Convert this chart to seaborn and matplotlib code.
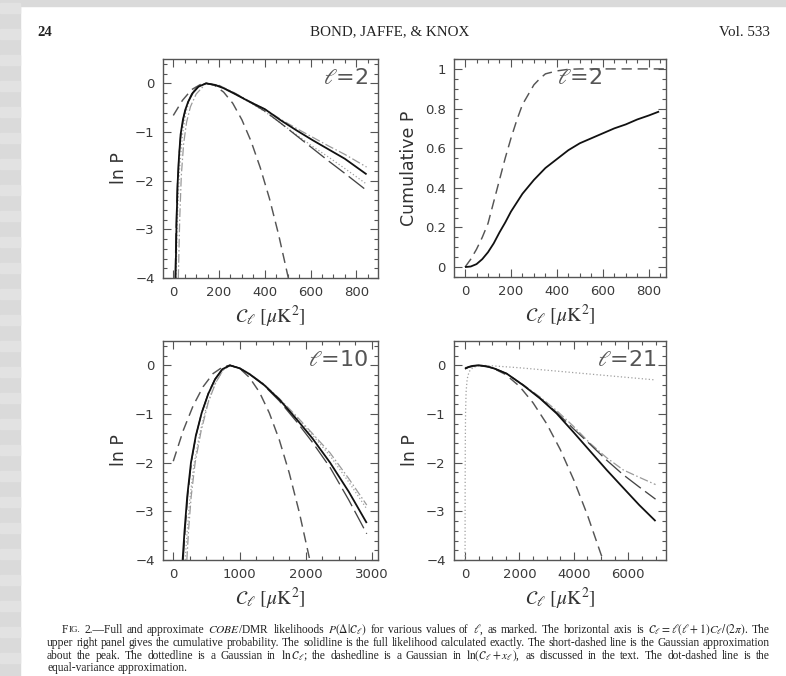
import numpy as np
import pandas as pd
import matplotlib
matplotlib.use("Agg")
import matplotlib.pyplot as plt
import seaborn as sns
from matplotlib.ticker import MultipleLocator
from matplotlib.patches import Rectangle

# ---------------- data ----------------
# Panel 1: l = 2, ln P
P1_SOLID_X = [10, 14, 19, 25, 32, 42, 52, 65, 85, 110, 143, 180, 220, 270, 330, 400, 470, 540, 610, 680, 750, 845]
P1_SOLID_Y = [-4.0, -2.9, -2.05, -1.5, -1.05, -0.75, -0.55, -0.38, -0.2, -0.07, 0.0, -0.03, -0.1, -0.22, -0.37,
              -0.53, -0.76, -0.97, -1.17, -1.36, -1.55, -1.87]
P1_SHORT_X = [0, 40, 80, 120, 145, 180, 220, 260, 300, 340, 380, 420, 460, 503]
P1_SHORT_Y = [-0.66, -0.35, -0.13, -0.02, 0.0, -0.04, -0.18, -0.41, -0.75, -1.19, -1.73, -2.36, -3.1, -4.0]
P1_DOT_X = [12, 16, 20, 28, 40, 55, 75, 100, 143, 200, 270, 330, 400, 470, 540, 610, 680, 750, 845]
P1_DOT_Y = [-4.0, -3.15, -2.54, -1.74, -1.06, -0.6, -0.27, -0.08, 0.0, -0.05, -0.22, -0.38, -0.58, -0.82,
            -1.06, -1.3, -1.52, -1.75, -2.07]
P1_LDASH_X = [8, 12, 17, 24, 32, 45, 60, 80, 105, 143, 200, 270, 330, 400, 470, 540, 610, 680, 750, 845]
P1_LDASH_Y = [-4.0, -3.0, -2.2, -1.55, -1.1, -0.7, -0.43, -0.22, -0.08, 0.0, -0.05, -0.21, -0.37, -0.57,
              -0.82, -1.08, -1.34, -1.6, -1.85, -2.2]
P1_DDASH_X = [22, 28, 35, 45, 58, 75, 100, 143, 200, 270, 330, 400, 470, 540, 610, 680, 750, 845]
P1_DDASH_Y = [-4.0, -2.8, -1.9, -1.25, -0.8, -0.48, -0.22, 0.0, -0.04, -0.2, -0.36, -0.53, -0.74, -0.93,
              -1.11, -1.29, -1.46, -1.72]

# Panel 2: l = 2, cumulative P
P2_SOLID_X = [0, 25, 50, 75, 100, 125, 150, 175, 200, 250, 300, 350, 400, 450, 500, 550, 600, 650, 700, 750, 800, 845]
P2_SOLID_Y = [0.0, 0.003, 0.015, 0.04, 0.075, 0.12, 0.175, 0.225, 0.28, 0.37, 0.44, 0.5, 0.545, 0.59, 0.625,
              0.65, 0.675, 0.7, 0.72, 0.745, 0.765, 0.785]
P2_SHORT_X = [0, 25, 50, 75, 100, 125, 150, 175, 200, 225, 250, 275, 300, 325, 350, 400, 450, 500, 900]
P2_SHORT_Y = [0.0, 0.04, 0.09, 0.15, 0.22, 0.33, 0.44, 0.55, 0.65, 0.74, 0.82, 0.87, 0.92, 0.95, 0.975,
              0.99, 0.998, 1.0, 1.0]

# Panel 3: l = 10, ln P
P3_SOLID_X = [141, 170, 210, 267, 340, 428, 530, 630, 740, 856, 1000, 1150, 1360, 1600, 1863, 2100, 2367, 2650, 2920]
P3_SOLID_Y = [-4.0, -3.4, -2.7, -2.0, -1.45, -0.98, -0.58, -0.29, -0.08, 0.0, -0.06, -0.18, -0.39, -0.7,
              -1.11, -1.5, -2.0, -2.6, -3.24]
P3_SHORT_X = [0, 150, 300, 450, 600, 750, 850, 1000, 1150, 1300, 1450, 1600, 1750, 1900, 2061]
P3_SHORT_Y = [-1.97, -1.34, -0.83, -0.44, -0.17, -0.03, 0.0, -0.06, -0.25, -0.55, -0.98, -1.53, -2.21, -3.01, -4.0]
P3_DOT_X = [180, 210, 250, 310, 400, 510, 630, 750, 856, 1000, 1150, 1360, 1600, 1863, 2100, 2367, 2650, 2920]
P3_DOT_Y = [-4.0, -3.4, -2.75, -2.05, -1.4, -0.8, -0.38, -0.1, 0.0, -0.05, -0.17, -0.38, -0.69, -1.07,
            -1.43, -1.86, -2.4, -2.95]
P3_LDASH_X = [150, 180, 220, 275, 345, 430, 530, 630, 740, 856, 1000, 1150, 1360, 1600, 1863, 2100, 2367, 2650, 2920]
P3_LDASH_Y = [-4.0, -3.35, -2.65, -1.97, -1.43, -0.97, -0.57, -0.28, -0.08, 0.0, -0.06, -0.18, -0.4, -0.73,
              -1.16, -1.58, -2.1, -2.77, -3.46]
P3_DDASH_X = [205, 230, 270, 330, 420, 530, 640, 750, 856, 1000, 1150, 1360, 1600, 1863, 2100, 2367, 2650, 2920]
P3_DDASH_Y = [-4.0, -3.4, -2.7, -2.0, -1.35, -0.75, -0.36, -0.1, 0.0, -0.05, -0.17, -0.38, -0.68, -1.05,
              -1.4, -1.8, -2.33, -2.87]

# Panel 4: l = 21, ln P
P4_SOLID_X = [0, 150, 300, 500, 800, 1100, 1530, 2143, 2755, 3368, 3980, 4592, 5205, 5817, 6400, 7000]
P4_SOLID_Y = [-0.07, -0.03, -0.01, 0.0, -0.02, -0.07, -0.17, -0.41, -0.68, -0.99, -1.37, -1.76, -2.15, -2.52,
              -2.87, -3.2]
P4_SHORT_X = [0, 500, 1000, 1500, 2000, 2500, 3000, 3500, 4000, 4500, 5000, 5080]
P4_SHORT_Y = [-0.05, 0.0, -0.05, -0.19, -0.43, -0.77, -1.2, -1.73, -2.36, -3.08, -3.89, -4.0]
P4_DOT_X = [2, 5, 10, 20, 40, 80, 150, 300, 600, 1000, 2000, 3000, 4000, 5000, 6000, 7000]
P4_DOT_Y = [-4.0, -2.6, -1.7, -1.0, -0.55, -0.28, -0.13, -0.04, 0.0, -0.01, -0.05, -0.1, -0.15, -0.2, -0.25, -0.3]
P4_LDASH_X = [0, 150, 300, 500, 800, 1100, 1530, 2143, 2755, 3368, 3980, 4592, 5205, 5817, 6400, 7000]
P4_LDASH_Y = [-0.07, -0.03, -0.01, 0.0, -0.02, -0.07, -0.17, -0.41, -0.67, -0.97, -1.3, -1.62, -1.95, -2.25,
              -2.5, -2.75]
P4_DDASH_X = [0, 150, 300, 500, 800, 1100, 1530, 2143, 2755, 3368, 3980, 4592, 5205, 5817, 6400, 7000]
P4_DDASH_Y = [-0.07, -0.03, -0.01, 0.0, -0.02, -0.07, -0.17, -0.4, -0.65, -0.93, -1.25, -1.6, -1.9, -2.15,
              -2.3, -2.45]

PANEL_LABELS = ["$\\ell$=2", "$\\ell$=2", "$\\ell$=10", "$\\ell$=21"]
XLABEL = r"$\mathcal{C}_\ell\ [\mu\mathrm{K}^2]$"
YLABELS = ["ln P", "Cumulative P", "ln P", "ln P"]
P1_XTICKS = [0, 200, 400, 600, 800]
P2_XTICKS = [0, 200, 400, 600, 800]
P2_YTICKS = [0, 0.2, 0.4, 0.6, 0.8, 1]
P3_XTICKS = [0, 1000, 2000, 3000]
P4_XTICKS = [0, 2000, 4000, 6000]
LNP_YTICKS = [0, -1, -2, -3, -4]

HEADER_LEFT = "24"
HEADER_MID = "BOND, JAFFE, & KNOX"
HEADER_RIGHT = "Vol. 533"
CAPTION_LINES = [
    ["F", "IG.", "2.\u2014Full", "and", "approximate", "$\\it{COBE}$/DMR", "likelihoods",
     "$P(\\Delta|\\mathcal{C}_\\ell)$", "for", "various", "values", "of", "$\\ell$,", "as", "marked.", "The",
     "horizontal", "axis", "is", "$\\mathcal{C}_\\ell=\\ell(\\ell+1)C_\\ell/(2\\pi)$.", "The"],
    ["upper", "right", "panel", "gives", "the", "cumulative", "probability.", "The", "solidline", "is", "the",
     "full", "likelihood", "calculated", "exactly.", "The", "short-dashed", "line", "is", "the", "Gaussian",
     "approximation"],
    ["about", "the", "peak.", "The", "dottedline", "is", "a", "Gaussian", "in", "$\\ln\\mathcal{C}_\\ell$;", "the",
     "dashedline", "is", "a", "Gaussian", "in", "$\\ln(\\mathcal{C}_\\ell+x_\\ell)$,", "as", "discussed", "in", "the",
     "text.", "The", "dot-dashed", "line", "is", "the"],
    ["equal-variance", "approximation."],
]

# ---------------- styling ----------------
sns.set_theme(style="ticks")
plt.rcParams["font.family"] = ["DejaVu Sans"]
plt.rcParams["mathtext.fontset"] = "stix"

W, H = 786, 676
fig = plt.figure(figsize=(W / 100, H / 100), dpi=100)
fig.patch.set_facecolor("white")

# scanned-page margins
fig.add_artist(Rectangle((0, 0), 20 / W, 1, transform=fig.transFigure, color="#dadada", zorder=-10))
for k in range(0, H, 26):
    fig.add_artist(Rectangle((0, 1 - (k + 13) / H), 20 / W, 10 / H, transform=fig.transFigure,
                             color="#e2e2e2", zorder=-9))
fig.add_artist(Rectangle((0, 1 - 6 / H), 1, 6 / H, transform=fig.transFigure, color="#dadada", zorder=-10))


def box(l, t, r, b):
    return [l / W, 1 - b / H, (r - l) / W, (b - t) / H]


axes = [fig.add_axes(box(163, 59, 378, 278)), fig.add_axes(box(454, 59, 666, 277)),
        fig.add_axes(box(163, 341, 378, 560)), fig.add_axes(box(454, 341, 666, 560))]

STY = {
    "solid": dict(color="#111111", lw=1.3),
    "short": dict(color="#555555", lw=1.05, dashes=(7, 4)),
    "dot": dict(color="#a0a0a0", lw=0.9, dashes=(1, 1.8)),
    "ldash": dict(color="#444444", lw=0.95, dashes=(15, 4)),
    "ddash": dict(color="#9a9a9a", lw=0.9, dashes=(7, 2, 1.2, 2)),
}


def draw(ax, x, y, kind):
    st = STY[kind]
    df = pd.DataFrame({"x": x, "y": y})
    sns.lineplot(data=df, x="x", y="y", ax=ax, color=st["color"], lw=st["lw"], sort=False,
                 estimator=None, legend=False)
    line = ax.get_lines()[-1]
    if "dashes" in st:
        line.set_dashes(st["dashes"])
    line.set_solid_capstyle("butt")


# panel 1
ax = axes[0]
draw(ax, P1_DDASH_X, P1_DDASH_Y, "ddash")
draw(ax, P1_DOT_X, P1_DOT_Y, "dot")
draw(ax, P1_LDASH_X, P1_LDASH_Y, "ldash")
draw(ax, P1_SHORT_X, P1_SHORT_Y, "short")
draw(ax, P1_SOLID_X, P1_SOLID_Y, "solid")
ax.set_xlim(-45, 895)
ax.set_ylim(-4, 0.5)
ax.set_xticks(P1_XTICKS)
ax.xaxis.set_minor_locator(MultipleLocator(50))

# panel 2
ax = axes[1]
draw(ax, P2_SHORT_X, P2_SHORT_Y, "short")
draw(ax, P2_SOLID_X, P2_SOLID_Y, "solid")
ax.set_xlim(-48, 875)
ax.set_ylim(-0.05, 1.05)
ax.set_xticks(P2_XTICKS)
ax.set_yticks(P2_YTICKS)
ax.set_yticklabels(["0", "0.2", "0.4", "0.6", "0.8", "1"])
ax.xaxis.set_minor_locator(MultipleLocator(50))
ax.yaxis.set_minor_locator(MultipleLocator(0.05))

# panel 3
ax = axes[2]
draw(ax, P3_DDASH_X, P3_DDASH_Y, "ddash")
draw(ax, P3_DOT_X, P3_DOT_Y, "dot")
draw(ax, P3_LDASH_X, P3_LDASH_Y, "ldash")
draw(ax, P3_SHORT_X, P3_SHORT_Y, "short")
draw(ax, P3_SOLID_X, P3_SOLID_Y, "solid")
ax.set_xlim(-155, 3090)
ax.set_ylim(-4, 0.5)
ax.set_xticks(P3_XTICKS)
ax.xaxis.set_minor_locator(MultipleLocator(250))

# panel 4
ax = axes[3]
draw(ax, P4_DOT_X, P4_DOT_Y, "dot")
draw(ax, P4_DDASH_X, P4_DDASH_Y, "ddash")
draw(ax, P4_LDASH_X, P4_LDASH_Y, "ldash")
draw(ax, P4_SHORT_X, P4_SHORT_Y, "short")
draw(ax, P4_SOLID_X, P4_SOLID_Y, "solid")
ax.set_xlim(-404, 7384)
ax.set_ylim(-4, 0.5)
ax.set_xticks(P4_XTICKS)
ax.xaxis.set_minor_locator(MultipleLocator(500))

for i, ax in enumerate(axes):
    if i != 1:
        ax.set_yticks(LNP_YTICKS)
        ax.set_yticklabels(["0", "\u22121", "\u22122", "\u22123", "\u22124"])
        ax.yaxis.set_minor_locator(MultipleLocator(0.2))
    ax.set_facecolor("white")
    for s in ax.spines.values():
        s.set_color("#555555")
        s.set_linewidth(1.0)
    ax.tick_params(which="both", direction="in", top=True, right=True, colors="#555555",
                   labelcolor="#3a3a3a", labelsize=9.5, width=0.8)
    ax.tick_params(which="major", length=6, pad=6)
    ax.tick_params(which="minor", length=3)
    ax.set_xlabel(XLABEL, fontsize=14, color="#333333", labelpad=3)
    ax.set_ylabel(YLABELS[i], fontsize=12.5, color="#333333", labelpad=5)
    xr = 0.70 if i == 1 else 0.955
    ax.text(xr, 0.915, PANEL_LABELS[i], transform=ax.transAxes, fontsize=16, color="#555555",
            ha="right", va="center")

# header
serif = ["Liberation Serif", "DejaVu Serif"]
fig.text(37 / W, 1 - 32 / H, HEADER_LEFT, family=serif, fontsize=10.5, fontweight="bold", va="center",
         color="#222222")
fig.text(390 / W, 1 - 32 / H, HEADER_MID, family=serif, fontsize=10.8, ha="center", va="center", color="#222222")
fig.text(770 / W, 1 - 32 / H, HEADER_RIGHT, family=serif, fontsize=10.8, ha="right", va="center",
         color="#222222")

# caption (justified word by word)
fig.canvas.draw()
renderer = fig.canvas.get_renderer()
cap_y = [630, 643, 656, 668]
cap_left = [62, 47, 47, 47]
cap_right = 770
BASE = 7.0


def measure(words, fs):
    ws = []
    for w in words:
        f = fs * 0.78 if w == "IG." else fs
        t = fig.text(0, 0, w, family=serif, fontsize=f)
        ws.append(t.get_window_extent(renderer).width)
        t.remove()
    return ws


# choose a font size so that lines have natural word spacing (~0.25 em)
cands = []
for li in range(3):
    words = CAPTION_LINES[li]
    ws = measure(words, BASE)
    ngap = len(words) - 1 - (1 if li == 0 else 0)
    em = BASE * 100 / 72
    target = cap_right - cap_left[li]
    cands.append(BASE * (target - ngap * 0.25 * em) / sum(ws))
FS = min(cands)

for li, words in enumerate(CAPTION_LINES):
    texts = []
    for w in words:
        f = FS * 0.78 if w == "IG." else FS
        t = fig.text(0, 1 - cap_y[li] / H, w, family=serif, fontsize=f, va="center", color="#222222")
        texts.append(t)
    widths = [t.get_window_extent(renderer).width for t in texts]
    ngap = len(words) - 1 - (1 if li == 0 else 0)
    if li < 3:
        gap = (cap_right - cap_left[li] - sum(widths)) / ngap
    else:
        gap = 0.25 * FS * 100 / 72
    xpos = cap_left[li]
    for k, t in enumerate(texts):
        t.set_x(xpos / W)
        xpos += widths[k]
        if not (li == 0 and k == 0):
            xpos += gap

fig.savefig("out.png", dpi=100, facecolor="white")
